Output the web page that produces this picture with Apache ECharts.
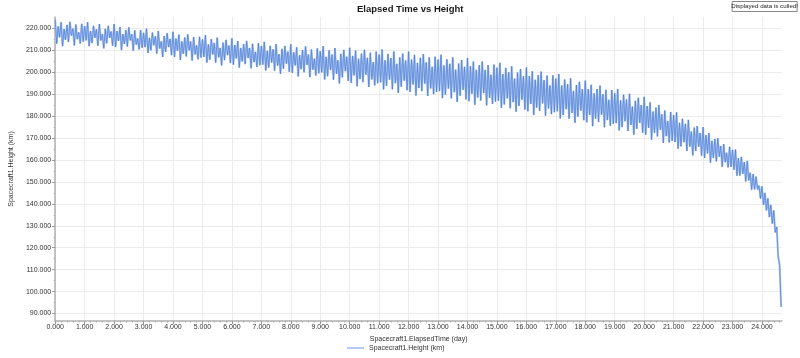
<!DOCTYPE html>
<html>
<head>
<meta charset="utf-8">
<script src="https://cdn.jsdelivr.net/npm/echarts@6/dist/echarts.min.js"></script>
<style>
html,body{margin:0;padding:0;background:#fff;}
#chart{width:800px;height:358px;}
</style>
</head>
<body>
<div id="chart"></div>
<script>
// Sampling step of the height trace (days); peaks at even steps, troughs at odd steps
const sampleStep = 0.05;

// Upper swings of Spacecraft1.Height (km), one per 0.1 day starting at day 0
const heightPeaks = [
224.0,220.9,222.8,219.7,221.6,223.0,219.9,221.8,218.2,222.1,
221.0,222.9,218.8,221.2,219.6,222.0,217.4,219.8,221.2,218.6,
222.0,218.8,220.6,217.4,219.2,220.5,217.3,219.1,215.4,219.2,
218.0,219.9,215.7,218.1,216.4,218.8,214.1,216.5,217.8,215.2,
218.5,215.4,217.2,214.1,215.9,217.3,214.1,216.0,212.3,216.2,
215.0,216.9,212.7,215.1,213.4,215.8,211.1,213.5,214.8,212.2,
215.5,212.4,214.2,211.1,212.9,214.3,211.1,213.0,209.3,213.2,
212.0,213.9,209.8,212.1,210.5,212.9,208.3,210.7,212.0,209.4,
212.8,209.1,211.4,207.8,210.1,211.8,208.1,210.4,206.2,210.9,
209.6,211.9,207.0,210.0,208.1,211.0,205.5,208.4,210.2,207.1,
211.2,207.5,209.9,206.2,208.5,210.3,206.6,208.9,204.6,209.4,
208.1,210.4,205.5,208.4,206.5,209.4,203.9,206.8,208.5,205.4,
209.5,205.8,208.0,204.3,206.6,208.3,204.5,206.8,202.5,207.1,
205.8,208.0,203.1,205.9,203.9,206.8,201.2,204.0,205.6,202.5,
206.5,202.7,204.9,201.1,203.3,204.9,201.1,203.3,198.9,203.5,
202.1,204.3,199.2,202.0,200.0,202.7,197.1,199.9,201.5,198.2,
202.2,198.3,200.5,196.6,198.7,200.3,196.4,198.5,194.0,198.6,
197.1,199.2,194.0,196.7,194.6,197.3,191.5,194.2,195.7,192.3,
196.2,192.3,194.3,190.4,192.4,193.9,190.0,192.0,187.5,191.9,
190.4,192.4,187.2,189.8,187.6,190.2,184.4,187.0,188.4,185.0,
188.8,184.6,186.3,182.1,183.9,185.1,180.8,182.6,177.8,181.9,
180.5,181.8,177.0,178.8,176.5,178.3,173.0,174.8,175.5,172.3,
175.0,171.4,172.3,168.7,169.6,170.0,166.4,167.3,163.3,166.0,
164.6,164.8,160.8,161.4,159.1,159.6,154.2,153.6,152.4,148.3,
148.0,145.0,142.5,139.5,137.0,129.5,112.0
];

// Lower swings of Spacecraft1.Height (km), one per 0.1 day starting at day 0.05
const heightTroughs = [
213.0,215.9,211.9,214.8,213.8,216.7,212.2,215.1,213.1,214.0,
214.5,211.9,213.3,215.7,212.1,214.5,210.9,213.2,215.7,212.1,
211.5,214.3,210.1,212.9,211.7,214.5,209.8,212.6,210.4,211.2,
211.5,208.8,210.0,212.3,208.5,210.8,207.0,209.3,211.5,207.8,
207.0,209.8,205.6,208.4,207.2,210.0,205.3,208.1,205.9,206.7,
207.0,204.4,205.7,208.1,204.4,206.8,203.1,205.5,207.8,204.2,
203.5,206.3,202.1,204.9,203.7,206.5,201.8,204.6,202.4,203.2,
203.5,200.8,202.1,204.4,200.7,203.0,199.3,201.6,203.9,200.2,
199.7,203.1,198.1,201.4,200.0,203.4,197.8,201.2,198.5,199.5,
199.9,196.7,198.2,201.0,196.6,199.3,194.9,197.7,200.5,196.0,
195.2,198.6,193.6,196.9,195.5,198.9,193.3,196.7,194.0,195.0,
195.4,192.2,193.8,196.6,192.2,195.0,190.6,193.4,196.2,191.8,
191.0,194.4,189.4,192.8,191.4,194.8,189.2,192.6,190.0,191.0,
191.4,188.2,189.8,192.5,188.1,190.9,186.5,189.3,192.0,187.6,
186.8,190.2,185.2,188.5,187.1,190.5,184.9,188.3,185.6,186.6,
187.0,183.8,185.3,188.1,183.6,186.4,182.0,184.7,187.5,183.0,
182.2,185.6,180.5,183.9,182.4,185.8,180.2,183.5,180.9,181.8,
182.2,178.9,180.5,183.2,178.8,181.5,177.0,179.8,182.5,178.1,
177.2,180.5,175.4,178.8,177.3,180.6,174.9,178.2,175.6,176.5,
176.8,173.5,175.0,177.7,173.2,176.0,171.5,174.2,176.9,172.4,
171.5,174.6,169.3,172.4,170.7,173.8,167.8,170.9,168.0,168.7,
168.2,165.2,166.2,168.1,164.1,166.1,162.1,164.1,166.0,162.0,
160.9,163.0,158.8,160.9,159.4,161.5,156.9,159.0,156.6,156.9,
155.6,152.9,152.9,153.7,150.2,150.7,146.5,146.6,146.6,142.4,
139.5,137.0,134.0,131.0,127.0,116.0,93.0
];

// Axis tick labels
const xTickValues = [0,1,2,3,4,5,6,7,8,9,10,11,12,13,14,15,16,17,18,19,20,21,22,23,24];
const yTickValues = [90,100,110,120,130,140,150,160,170,180,190,200,210,220];

const titleText = 'Elapsed Time vs Height';
const xName = 'Spacecraft1.ElapsedTime (day)';
const yName = 'Spacecraft1.Height (km)';
const seriesName = 'Spacecraft1.Height (km)';
const cullNote = 'Displayed data is culled!';

// build series data
const seriesData = [];
for (let i = 0; i < heightPeaks.length; i++) {
  seriesData.push([+(2 * i * sampleStep).toFixed(3), heightPeaks[i]]);
  if (i < heightTroughs.length) seriesData.push([+((2 * i + 1) * sampleStep).toFixed(3), heightTroughs[i]]);
}
// minor tick positions
const xMinor = [];
for (let d = 0; d < 24.6; d += 1) {
  for (let k = 1; k < 5; k++) { const v = +(d + k * 0.2).toFixed(2); if (v < 24.68) xMinor.push(v); }
}
const yMinor = [];
for (let v = 95; v < 225; v += 10) yMinor.push(v);

const FONT = 'Liberation Sans';
const X_MIN = 0, X_MAX = 24.68, Y_MIN = 86.6, Y_MAX = 225.2;
const fmt3 = v => Number(v).toFixed(3);

const chart = echarts.init(document.getElementById('chart'), null, {renderer: 'canvas'});
chart.setOption({
  animation: false,
  backgroundColor: '#ffffff',
  title: {
    text: titleText, left: 352, top: -1,
    textStyle: {fontFamily: FONT, fontSize: 9.5, fontWeight: 'bold', color: '#1a1a1a'}
  },
  legend: {
    bottom: 1.5, left: 342,
    icon: 'rect', itemWidth: 17, itemHeight: 1.5, itemGap: 4,
    textStyle: {fontFamily: FONT, fontSize: 7, color: '#333'},
    itemStyle: {color: '#9db9e8'},
    data: [seriesName]
  },
  grid: {left: 43, right: 18, top: 17, bottom: 37, containLabel: false},
  xAxis: [{
    type: 'value', min: X_MIN, max: X_MAX, interval: 1,
    name: xName, nameLocation: 'middle', nameGap: 10.5,
    nameTextStyle: {fontFamily: FONT, fontSize: 7, color: '#333'},
    axisLine: {show: true, lineStyle: {color: '#b0b0b0', width: 1.5}},
    axisTick: {show: true, length: 3, customValues: xTickValues, lineStyle: {color: '#999'}},
    axisLabel: {customValues: xTickValues, formatter: fmt3, fontFamily: FONT, fontSize: 7, color: '#333', margin: 3},
    splitLine: {show: true, lineStyle: {color: '#ececec', width: 1}}
  }, {
    type: 'value', min: X_MIN, max: X_MAX, position: 'bottom',
    axisLine: {show: false},
    axisTick: {show: true, length: 1.5, customValues: xMinor, lineStyle: {color: '#aaa'}},
    axisLabel: {show: false},
    splitLine: {show: false}
  }],
  yAxis: [{
    type: 'value', min: Y_MIN, max: Y_MAX,
    name: yName, nameLocation: 'middle', nameGap: 38, nameRotate: 90,
    nameTextStyle: {fontFamily: FONT, fontSize: 7, color: '#333'},
    axisLine: {show: true, lineStyle: {color: '#b0b0b0', width: 1.5}},
    axisTick: {show: true, length: 3, customValues: yTickValues, lineStyle: {color: '#999'}},
    axisLabel: {customValues: yTickValues, formatter: fmt3, fontFamily: FONT, fontSize: 7, color: '#333', margin: 4},
    splitLine: {show: true, lineStyle: {color: '#ececec', width: 1}}
  }, {
    type: 'value', min: Y_MIN, max: Y_MAX, position: 'left',
    axisLine: {show: false},
    axisTick: {show: true, length: 1.5, customValues: yMinor, lineStyle: {color: '#aaa'}},
    axisLabel: {show: false},
    splitLine: {show: false}
  }],
  graphic: [{
    type: 'group', right: 2, top: 1,
    children: [{
      type: 'rect', shape: {x: 0, y: 0, width: 65, height: 10},
      style: {fill: '#fff', stroke: '#888', lineWidth: 1}
    }, {
      type: 'text', x: 32.5, y: 5,
      style: {text: cullNote, fill: '#222', font: '6.2px ' + FONT, align: 'center', verticalAlign: 'middle'}
    }]
  }],
  series: [{
    name: seriesName, type: 'line', data: seriesData,
    xAxisIndex: 0, yAxisIndex: 0,
    showSymbol: false, symbol: 'none', sampling: null, z: 2,
    lineStyle: {color: '#a9c3ee', width: 2.0, opacity: 1},
    itemStyle: {color: '#9db9e8'}
  }, {
    name: seriesName + ' ', type: 'line', data: seriesData,
    xAxisIndex: 0, yAxisIndex: 0,
    showSymbol: false, symbol: 'none', sampling: null, z: 3,
    lineStyle: {color: '#4577d3', width: 0.8, opacity: 0.8},
    itemStyle: {color: '#4577d3'}
  }]
});
</script>
</body>
</html>
